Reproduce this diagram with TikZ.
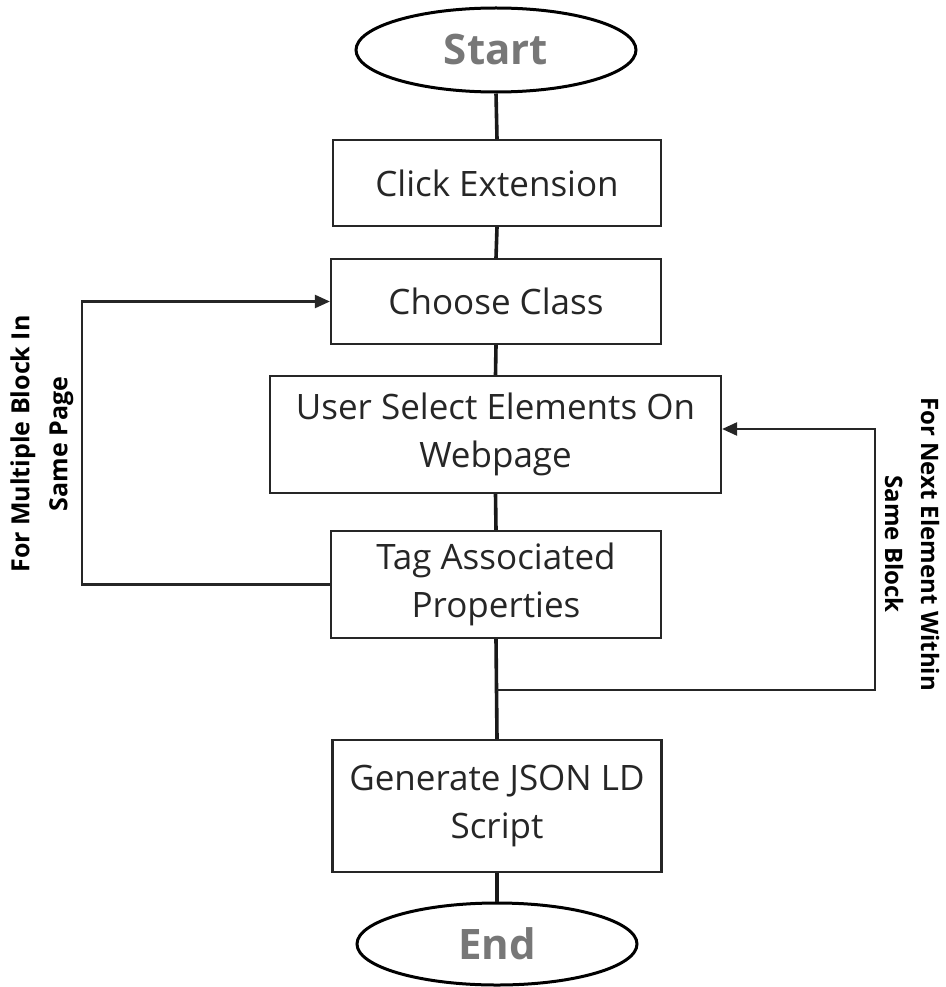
\documentclass[tikz,border=0pt]{standalone}
\usepackage{fontspec}
\setmainfont{Open Sans}
\usetikzlibrary{arrows.meta,shapes.geometric,calc}
\definecolor{termgray}{HTML}{777777}
\tikzset{
  box/.style={draw=black!85, line width=2.2pt, rectangle, inner sep=0pt, align=center,
    font=\fontsize{35}{48}\selectfont, text=black!85},
  term/.style={draw=black, line width=3pt, ellipse, inner sep=0pt,
    minimum width=280pt, font=\fontsize{42}{48}\selectfont\bfseries, text=termgray},
  flow/.style={line width=3.6pt, draw=black!90},
  loopline/.style={line width=2.4pt, draw=black!85, -{Triangle[length=15pt,width=13pt]}},
  lbl/.style={font=\fontsize{25}{38}\selectfont\bfseries, align=center, inner sep=0pt}
}
\begin{document}
\begin{tikzpicture}[x=1pt,y=-1pt]
\useasboundingbox (0,0) rectangle (945,987);
\node[term, minimum height=84pt] (start) at (496,50) {Start};
\node[box, minimum width=328pt, minimum height=86pt] (b1) at (497,183) {Click Extension};
\node[box, minimum width=330pt, minimum height=85pt] (b2) at (496,301.5) {Choose Class};
\node[box, minimum width=451pt, minimum height=117pt] (b3) at (495.5,434.5) {User Select Elements On\\Webpage};
\node[box, minimum width=330pt, minimum height=107pt] (b4) at (496,584.5) {Tag Associated\\Properties};
\node[box, minimum width=329pt, minimum height=132pt] (b5) at (497,806) {Generate JSON LD\\Script};
\node[term, minimum height=82pt] (end) at (497,944) {End};

\draw[flow] (start.south) -- (b1.north);
\draw[flow] (b1.south) -- (b2.north);
\draw[flow] (b2.south) -- (b3.north);
\draw[flow] (b3.south) -- (b4.north);
\draw[flow] (b4.south) -- (b5.north);
\draw[flow] (b5.south) -- (end.north);

\coordinate (l1) at (82,584.5);
\coordinate (l2) at (82,301.5);
\draw[loopline] (b4.west) -- (l1) -- (l2) -- (b2.west);

\coordinate (br) at (497,690);
\coordinate (r1) at (875,690);
\coordinate (r2) at (875,429);
\draw[loopline] (br) -- (r1) -- (r2) -- (r2 -| b3.east);

\node[lbl, rotate=90] (lefttxt) at (42,444) {For Multiple Block In\\Same Page};
\node[lbl, rotate=-90, font=\fontsize{24}{36}\selectfont\bfseries] (righttxt) at (912,544) {For Next Element Within\\Same Block};
\end{tikzpicture}
\end{document}
